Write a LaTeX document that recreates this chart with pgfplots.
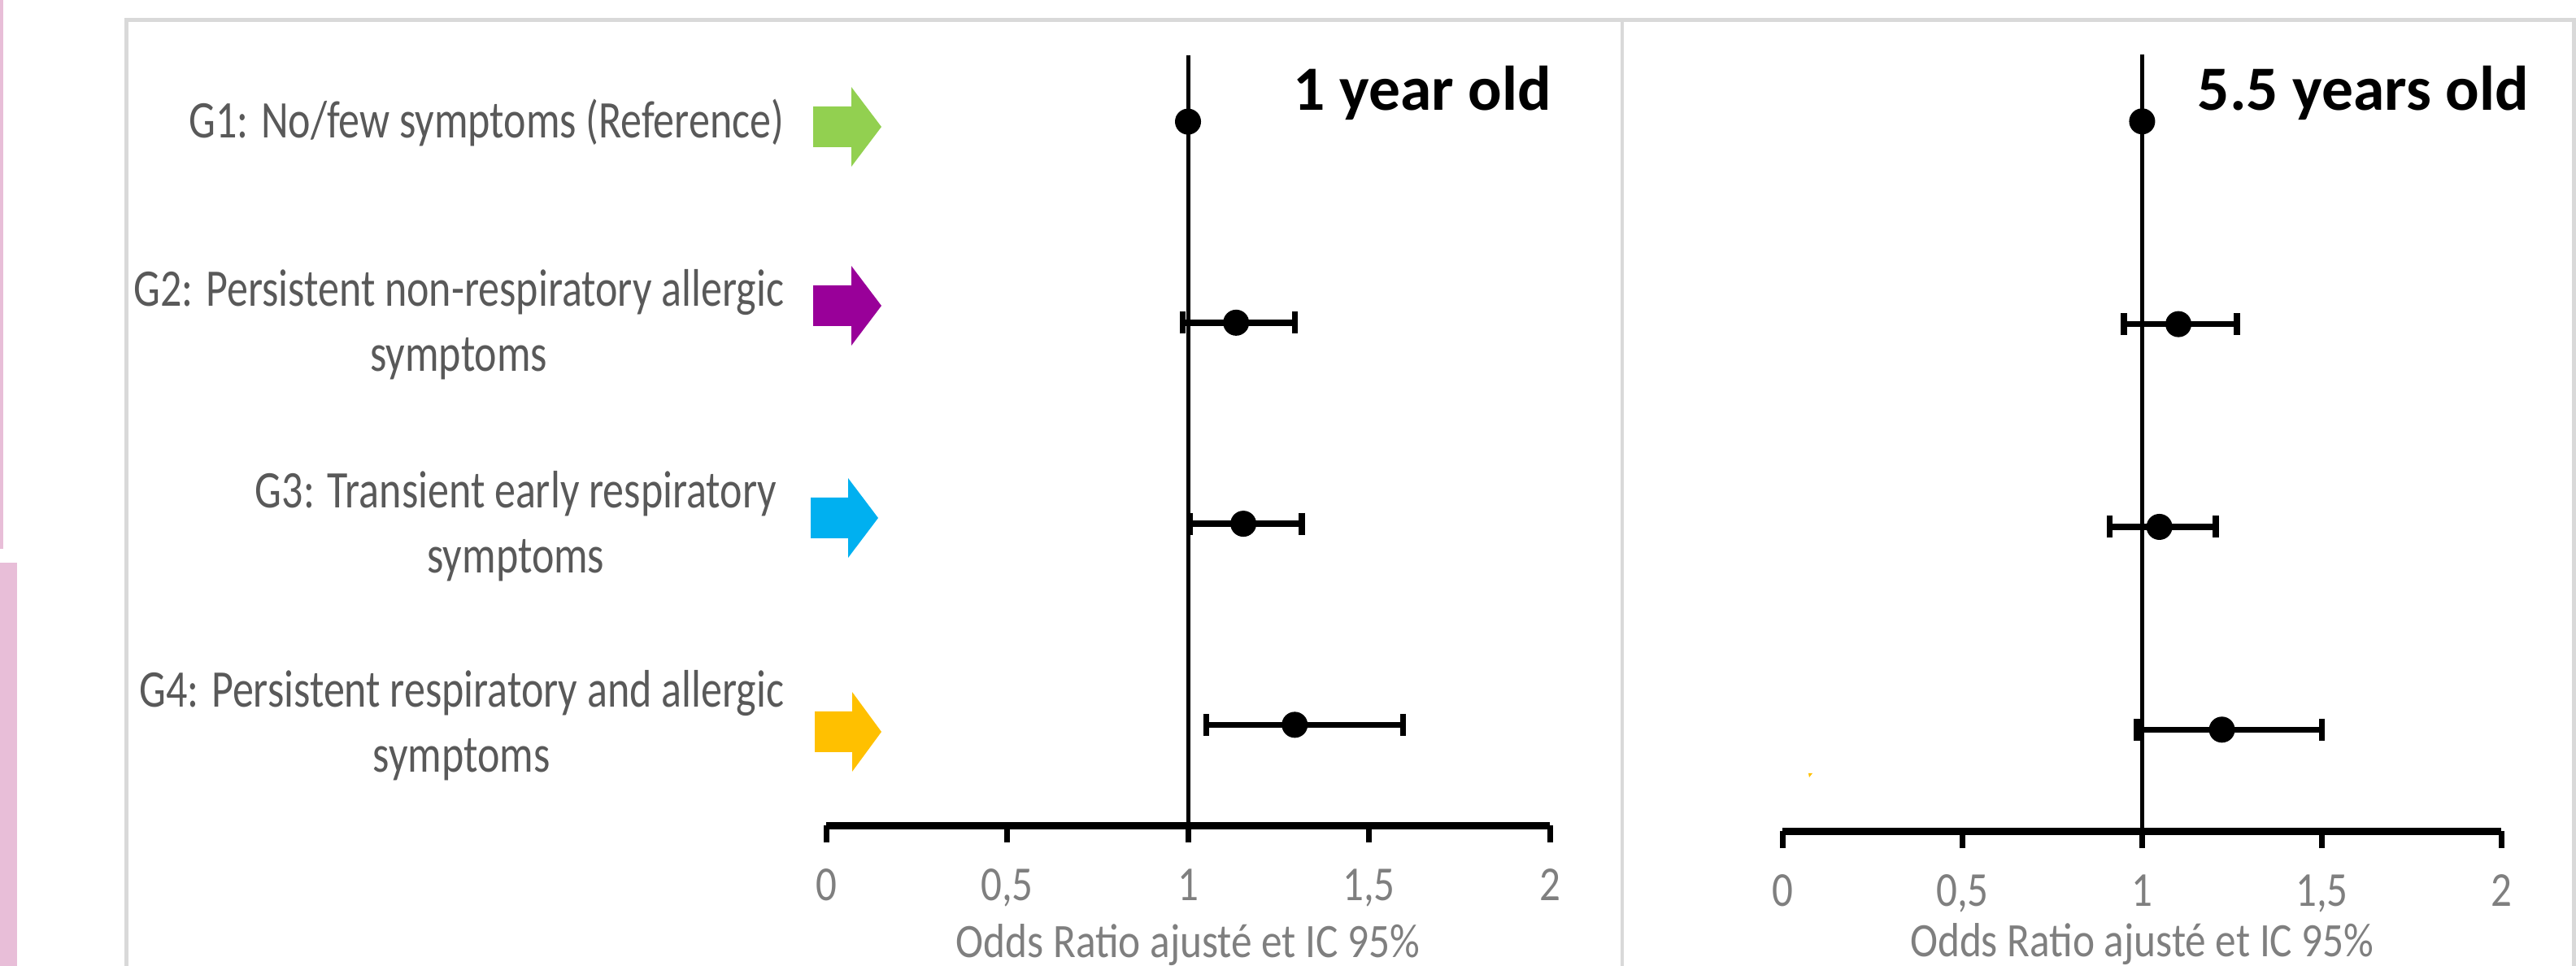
\documentclass[border=0pt]{standalone}
\usepackage{fontspec}
\setmainfont{Carlito}
\newfontfamily\labelfont[FakeStretch=0.8]{Carlito}
\newfontfamily\tickfont[FakeStretch=0.85]{Carlito}
\newfontfamily\xlabfont[FakeStretch=0.87]{Carlito}
\usepackage{pgfplots}
\usepackage{pgfplotstable}
\pgfplotsset{compat=1.18}
\definecolor{framegray}{HTML}{D9D9D9}
\definecolor{labelgray}{HTML}{595959}
\definecolor{tickgray}{HTML}{7F7F7F}
\definecolor{pinkstrip}{HTML}{E8BED8}
\definecolor{agreen}{HTML}{92D050}
\definecolor{apurple}{HTML}{990099}
\definecolor{acyan}{HTML}{00B0F0}
\definecolor{aorange}{HTML}{FFC000}

% row: 4 = G1 (top) ... 1 = G4 (bottom); or = adjusted odds ratio, lo/hi = 95% CI
\pgfplotstableread{
row or lo hi
3 1.133 0.985 1.295
2 1.153 1.004 1.314
1 1.295 1.051 1.594
}\oneyear
\pgfplotstableread{
row or lo hi
3 1.101 0.949 1.264
2 1.048 0.910 1.205
1 1.222 0.985 1.500
}\fiveyears

\pgfplotsset{forest/.style={
  scale only axis, enlargelimits=false, clip=false,
  xmin=0, xmax=2, ymin=0.5, ymax=4.33,
  axis x line=bottom, axis y line=none,
  axis line style={-, line width=1.8pt, black},
  x axis line style={-},
  xtick={0,0.5,1,1.5,2}, xticklabels={0,{0,5},1,{1,5},2},
  tick align=outside, major tick length=4.2pt,
  tick style={line width=1.4pt, black},
  xticklabel style={font=\tickfont\fontsize{12}{14}\selectfont, text=tickgray, yshift=-3pt},
  },
  ormark/.style={only marks, mark=*, mark size=3pt, black},
  orbars/.style={only marks, mark=*, mark size=3pt, black,
    error bars/.cd, x dir=both, x explicit,
    error bar style={line width=1.5pt, black},
    error mark options={rotate=90, line width=1.5pt, mark size=2.7pt, black}},
}
\newcommand\blockarrow[5]{%
  \fill[#1] (#2,{#5-25}) -- (#3,{#5-25}) -- (#3,{#5-49}) -- (#4,#5) -- (#3,{#5+49}) -- (#3,{#5+25}) -- (#2,{#5+25}) -- cycle;}

\begin{document}
\begin{tikzpicture}
\useasboundingbox (0,0) rectangle (633.6pt,-237.6pt);
\begin{scope}[x=0.2pt, y=-0.2pt]
  % page decorations
  \fill[pinkstrip] (0,0) rectangle (4,675);
  \fill[pinkstrip] (0,692) rectangle (21,1188);
  \draw[framegray, line width=1pt] (155,1188) -- (155,25) -- (3168,25);
  \draw[framegray, line width=0.8pt] (1995,25) -- (1995,1188);
  \draw[framegray, line width=1pt] (3165,25) -- (3165,1188);
  % arrows
  \blockarrow{agreen}{1000}{1047}{1084}{156}
  \blockarrow{apurple}{1000}{1047}{1084}{376}
  \blockarrow{acyan}{997}{1043}{1080}{637}
  \blockarrow{aorange}{1002}{1048}{1084}{900}
  \fill[aorange] (2224,951) -- (2229,951) -- (2225,956) -- cycle;
  % group labels
  \begin{scope}[every node/.style={anchor=base east, inner sep=0pt, text=labelgray, font=\labelfont\fontsize{13}{16}\selectfont}]
    \node at (965,170) {G1: No/few symptoms (Reference)};
    \node at (965,377) {\begin{tabular}[t]{@{}c@{}}G2: Persistent non-respiratory allergic\\ symptoms\end{tabular}};
    \node at (956,625) {\begin{tabular}[t]{@{}c@{}}G3: Transient early respiratory\\ symptoms\end{tabular}};
    \node at (965,870) {\begin{tabular}[t]{@{}c@{}}G4: Persistent respiratory and allergic\\ symptoms\end{tabular}};
  \end{scope}
  % panel titles
  \node[anchor=base east, inner sep=0pt, font=\bfseries\fontsize{15.5}{18}\selectfont] at (1909,136) {1 year old};
  \node[anchor=base east, inner sep=0pt, font=\bfseries\fontsize{15.5}{18}\selectfont] at (3111,136) {5.5 years old};
\end{scope}

% 1 year old
\begin{axis}[forest, width=178pt, height=189.4pt, at={(203.2pt,-203pt)}, anchor=south west]
  \addplot[black, line width=1pt] coordinates {(1,0.5) (1,4.33)};
  \addplot[ormark] coordinates {(1,4)};
  \addplot[orbars] table[x=or, y=row, x error plus expr=\thisrow{hi}-\thisrow{or}, x error minus expr=\thisrow{or}-\thisrow{lo}] {\oneyear};
  \node[anchor=base, inner sep=0pt, text=tickgray, font=\xlabfont\fontsize{11.8}{14}\selectfont] at (axis cs:1,-0.158) {Odds Ratio ajusté et IC 95\%};
\end{axis}

% 5.5 years old
\begin{axis}[forest, width=176.8pt, height=191pt, at={(438.48pt,-204.4pt)}, anchor=south west]
  \addplot[black, line width=1pt] coordinates {(1,0.5) (1,4.33)};
  \addplot[ormark] coordinates {(1,4)};
  \addplot[orbars] table[x=or, y=row, x error plus expr=\thisrow{hi}-\thisrow{or}, x error minus expr=\thisrow{or}-\thisrow{lo}] {\fiveyears};
  \node[anchor=base, inner sep=0pt, text=tickgray, font=\xlabfont\fontsize{11.8}{14}\selectfont] at (axis cs:1,-0.12) {Odds Ratio ajusté et IC 95\%};
\end{axis}
\end{tikzpicture}
\end{document}
